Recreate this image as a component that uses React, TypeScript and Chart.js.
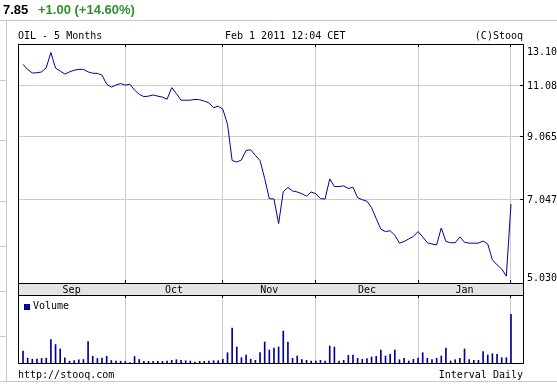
import React, { useEffect, useRef } from "react";
import { Chart, registerables } from "chart.js";

Chart.register(...registerables);

// ---------- data ----------
const monthLabels = ["Sep", "Oct", "Nov", "Dec", "Jan"];
// trading-day index at which each following month begins (Oct, Nov, Dec, Jan, Feb)
const monthStarts = [22, 43, 63, 85, 105];

const price = [
  12.08, 11.83, 11.67, 11.68, 11.72, 11.92, 12.66, 11.9, 11.76, 11.62,
  11.72, 11.8, 11.84, 11.84, 11.72, 11.66, 11.65, 11.57, 11.16, 11.03,
  11.12, 11.19, 11.12, 11.16, 10.9, 10.72, 10.62, 10.64, 10.69, 10.64,
  10.6, 10.51, 11.01, 10.75, 10.47, 10.47, 10.47, 10.5, 10.49, 10.43,
  10.36, 10.16, 10.22, 10.1, 9.51, 8.23, 8.18, 8.25, 8.57, 8.59,
  8.4, 8.23, 7.66, 7.07, 7.06, 6.4, 7.27, 7.39, 7.29, 7.26,
  7.21, 7.14, 7.26, 7.21, 7.07, 7.06, 7.65, 7.42, 7.42, 7.44,
  7.36, 7.4, 7.1, 7.04, 7.0, 6.82, 6.53, 6.26, 6.2, 6.22,
  6.11, 5.92, 5.96, 6.02, 6.08, 6.2, 6.07, 5.93, 5.9, 5.88,
  6.29, 5.96, 5.93, 5.93, 6.07, 5.94, 5.92, 5.92, 5.92, 5.97,
  5.9, 5.54, 5.43, 5.34, 5.19, 6.92,
];

const volume = [
  128, 58, 48, 48, 55, 58, 245, 195, 150, 62,
  28, 35, 42, 45, 225, 78, 55, 58, 78, 35,
  28, 28, 25, 15, 75, 45, 27, 27, 27, 27,
  27, 30, 37, 43, 37, 33, 30, 20, 27, 27,
  30, 33, 33, 47, 113, 360, 170, 63, 90, 47,
  37, 113, 220, 140, 160, 170, 330, 220, 57, 80,
  43, 37, 30, 30, 37, 30, 180, 170, 30, 37,
  87, 90, 57, 47, 53, 70, 77, 140, 80, 97,
  140, 43, 57, 30, 47, 60, 113, 57, 43, 57,
  80, 160, 30, 43, 57, 150, 43, 37, 37, 123,
  90, 103, 97, 63, 63, 497,
];

const priceTicks = [13.1, 11.08, 9.065, 7.047, 5.03];
const priceTickLabels = ["13.10", "11.08", "9.065", "7.047", "5.030"];

const lastClose = "7.85";
const change = "+1.00 (+14.60%)";
const title = "OIL - 5 Months";
const stamp = "Feb 1 2011 12:04 CET";
const copyright = "(C)Stooq";
const site = "http://stooq.com";
const interval = "Interval Daily";
const volumeLabel = "Volume";

// ---------- style ----------
const W = 557;
const X_MIN = -1.08;
const X_MAX = 107.8;
const VOL_MAX = 690;
const MONO = '10px "DejaVu Sans Mono", "Liberation Mono", monospace';
const BLUE = "#000099";
const GRID = "#cccccc";
const PAGE_LINE = "#c8c8c8";
const GREEN = "#2f8f2f";
const BAND = "#e4e4e4";

const align = (p: number) => Math.round(p - 0.5) + 0.5;

const pricePlugin = {
  id: "priceDecor",
  afterDraw(chart: any) {
    const { ctx, chartArea: a, scales } = chart;
    const xs = scales.x;
    const ys = scales.y;
    ctx.save();
    ctx.lineWidth = 1;

    // page frame
    ctx.strokeStyle = PAGE_LINE;
    ctx.beginPath();
    ctx.moveTo(0, 20.5);
    ctx.lineTo(W, 20.5);
    ctx.moveTo(6.5, 21);
    ctx.lineTo(6.5, 296);
    for (const y of [80.5, 140.5, 201.5, 246.5, 291.5]) {
      ctx.moveTo(0, y);
      ctx.lineTo(6, y);
    }
    ctx.stroke();

    // header
    ctx.textBaseline = "alphabetic";
    ctx.textAlign = "left";
    ctx.font = 'bold 13px "Liberation Sans", Arial, sans-serif';
    ctx.fillStyle = "#000";
    ctx.fillText(lastClose, 3, 13.5);
    ctx.fillStyle = GREEN;
    ctx.fillText(change, 38, 13.5);

    ctx.font = MONO;
    ctx.fillStyle = "#000";
    ctx.fillText(title, a.left, 39);
    ctx.fillText(stamp, 225, 39);
    ctx.textAlign = "right";
    ctx.fillText(copyright, a.right - 1, 39);

    // month band
    ctx.fillStyle = BAND;
    ctx.fillRect(a.left, a.bottom, a.right - a.left, 11);

    ctx.strokeStyle = "#000";
    ctx.strokeRect(a.left + 0.5, a.top + 0.5, a.right - a.left - 1, a.bottom - a.top - 1);
    ctx.beginPath();
    ctx.moveTo(a.left + 0.5, a.bottom);
    ctx.lineTo(a.left + 0.5, 296);
    ctx.moveTo(a.right - 0.5, a.bottom);
    ctx.lineTo(a.right - 0.5, 296);
    ctx.moveTo(a.left, 295.5);
    ctx.lineTo(a.right, 295.5);
    // month boundary ticks
    for (const m of monthStarts) {
      const x = align(xs.getPixelForValue(m));
      ctx.moveTo(x, a.top);
      ctx.lineTo(x, a.top + 3);
      ctx.moveTo(x, a.bottom - 4);
      ctx.lineTo(x, a.bottom);
    }
    // price ticks on right border
    for (let i = 1; i < priceTicks.length - 1; i++) {
      const y = align(ys.getPixelForValue(priceTicks[i]));
      ctx.moveTo(a.right - 4, y);
      ctx.lineTo(a.right, y);
    }
    ctx.stroke();

    // month labels
    ctx.font = MONO;
    ctx.fillStyle = "#000";
    ctx.textAlign = "center";
    const bounds = [a.left, ...monthStarts.map((m) => xs.getPixelForValue(m))];
    monthLabels.forEach((lab, k) => {
      ctx.fillText(lab, (bounds[k] + bounds[k + 1]) / 2, 292.5);
    });

    // price labels
    ctx.textAlign = "left";
    priceTicks.forEach((v, i) => {
      const py = ys.getPixelForValue(v);
      const base = Math.min(Math.max(py + 3.5, a.top + 11), a.bottom - 3);
      ctx.fillText(priceTickLabels[i], a.right + 3, base);
    });
    ctx.restore();
  },
};

const volumePlugin = {
  id: "volumeDecor",
  afterDraw(chart: any) {
    const { ctx, chartArea: a, scales } = chart;
    const xs = scales.x;
    ctx.save();
    ctx.lineWidth = 1;

    // page frame
    ctx.strokeStyle = PAGE_LINE;
    ctx.beginPath();
    ctx.moveTo(6.5, 0);
    ctx.lineTo(6.5, 87);
    ctx.moveTo(0, 41.5);
    ctx.lineTo(6, 41.5);
    ctx.moveTo(0, 86.5);
    ctx.lineTo(W, 86.5);
    ctx.stroke();

    // border
    ctx.strokeStyle = "#000";
    ctx.strokeRect(a.left + 0.5, a.top + 0.5, a.right - a.left - 1, a.bottom - a.top - 1);
    ctx.beginPath();
    for (const m of monthStarts) {
      const x = align(xs.getPixelForValue(m));
      ctx.moveTo(x, a.top);
      ctx.lineTo(x, a.top + 3);
    }
    ctx.stroke();

    // legend
    ctx.fillStyle = "#0000cc";
    ctx.fillRect(24, 9, 6, 6);
    ctx.strokeStyle = "#000066";
    ctx.strokeRect(24.5, 9.5, 5, 5);
    ctx.font = MONO;
    ctx.fillStyle = "#000";
    ctx.textAlign = "left";
    ctx.textBaseline = "alphabetic";
    ctx.fillText(volumeLabel, 33, 13.5);

    // footer
    ctx.fillText(site, a.left, 82.5);
    ctx.textAlign = "right";
    ctx.fillText(interval, a.right - 1, 82.5);
    ctx.restore();
  },
};

const monthGridTicks = (scale: any) => {
  scale.ticks = monthStarts.map((v) => ({ value: v }));
};

export default function App() {
  const priceRef = useRef<HTMLCanvasElement>(null);
  const volRef = useRef<HTMLCanvasElement>(null);

  useEffect(() => {
    document.body.style.margin = "0";
    const pts = price.map((v, i) => ({ x: i, y: v }));
    const vols = volume.map((v, i) => ({ x: i, y: v }));

    const priceChart = new Chart(priceRef.current as HTMLCanvasElement, {
      type: "line",
      data: {
        datasets: [
          {
            data: pts,
            borderColor: BLUE,
            borderWidth: 1,
            pointRadius: 0,
            tension: 0,
            fill: false,
          },
        ],
      },
      options: {
        responsive: false,
        animation: false,
        devicePixelRatio: 1,
        events: [],
        layout: { padding: { left: 18, top: 44, right: 0, bottom: 0 } },
        plugins: { legend: { display: false }, tooltip: { enabled: false } },
        scales: {
          x: {
            type: "linear",
            min: X_MIN,
            max: X_MAX,
            afterBuildTicks: monthGridTicks,
            afterFit: (s: any) => {
              s.height = 12;
            },
            grid: { color: GRID, drawTicks: false },
            border: { display: false },
            ticks: { display: false },
          },
          y: {
            type: "logarithmic",
            position: "right",
            min: priceTicks[priceTicks.length - 1],
            max: priceTicks[0],
            afterBuildTicks: (s: any) => {
              s.ticks = priceTicks.map((v) => ({ value: v }));
            },
            afterFit: (s: any) => {
              s.width = 33;
            },
            grid: { color: GRID, drawTicks: false },
            border: { display: false },
            ticks: { display: false },
          },
        },
      } as any,
      plugins: [pricePlugin],
    });

    const volChart = new Chart(volRef.current as HTMLCanvasElement, {
      type: "bar",
      data: {
        datasets: [
          {
            data: vols,
            backgroundColor: BLUE,
            barThickness: 1,
            borderWidth: 0,
          },
        ],
      },
      options: {
        responsive: false,
        animation: false,
        devicePixelRatio: 1,
        events: [],
        layout: { padding: { left: 18, top: 0, right: 0, bottom: 20 } },
        plugins: { legend: { display: false }, tooltip: { enabled: false } },
        scales: {
          x: {
            type: "linear",
            min: X_MIN,
            max: X_MAX,
            offset: false,
            afterBuildTicks: monthGridTicks,
            afterFit: (s: any) => {
              s.height = 0;
            },
            grid: { color: GRID, drawTicks: false, offset: false },
            border: { display: false },
            ticks: { display: false },
          },
          y: {
            type: "linear",
            position: "right",
            min: 0,
            max: VOL_MAX,
            afterFit: (s: any) => {
              s.width = 33;
            },
            grid: { display: false, drawTicks: false },
            border: { display: false },
            ticks: { display: false },
          },
        },
      } as any,
      plugins: [volumePlugin],
    });

    return () => {
      priceChart.destroy();
      volChart.destroy();
    };
  }, []);

  return (
    <div style={{ position: "fixed", left: 0, top: 0, width: W, height: 384, background: "#fff" }}>
      <canvas
        ref={priceRef}
        width={W}
        height={296}
        style={{ position: "absolute", left: 0, top: 0, width: W, height: 296 }}
      />
      <canvas
        ref={volRef}
        width={W}
        height={89}
        style={{ position: "absolute", left: 0, top: 295, width: W, height: 89 }}
      />
    </div>
  );
}
